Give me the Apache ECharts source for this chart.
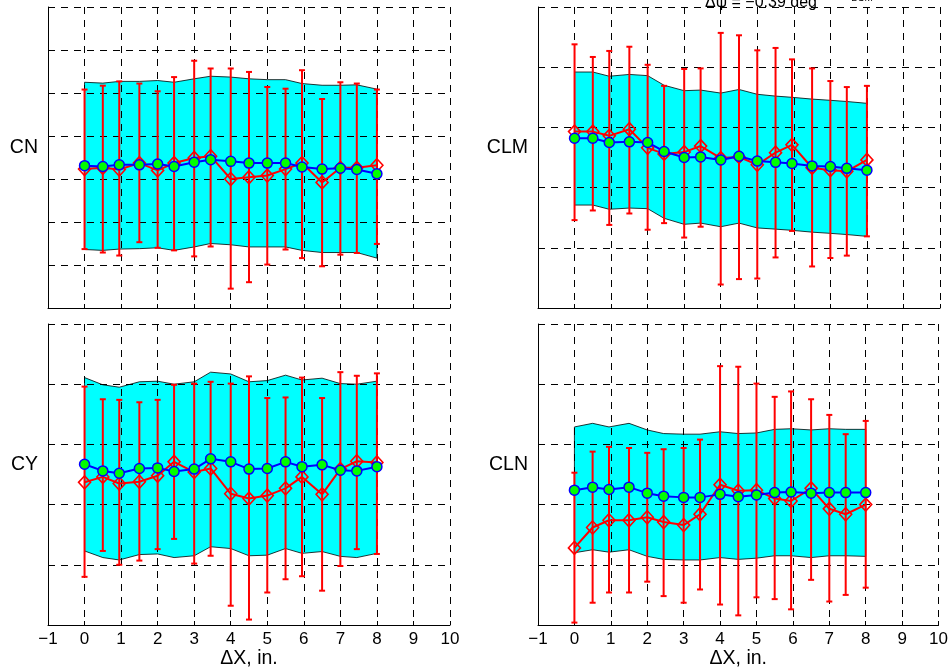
<!DOCTYPE html>
<html><head><meta charset="utf-8">
<script src="https://cdn.jsdelivr.net/npm/echarts@6/dist/echarts.min.js"></script>
<style>html,body{margin:0;padding:0;background:#fff}#c{width:951px;height:671px}</style>
</head><body><div id="c"></div>
<script>
const xPos = [0,0.5,0.95,1.5,2,2.45,3,3.45,4,4.5,5,5.5,5.95,6.5,7,7.45,8];
const xMin = -1, xMax = 10;
const panelNames = ['CN','CLM','CY','CLN'];
const panelYMax = [7,5,5,5];
const xLabel = 'ΔX, in.';
const titleText = 'Δψ = −0.39 deg';

// CN
const cnPred  = [3.31,3.29,3.33,3.33,3.35,3.29,3.39,3.45,3.41,3.37,3.37,3.37,3.28,3.23,3.25,3.22,3.12];
const cnMeas  = [3.23,3.26,3.22,3.37,3.20,3.37,3.49,3.53,3.00,3.04,3.08,3.23,3.37,2.92,3.26,3.26,3.32];
const cnErrHi = [5.08,5.17,5.27,5.22,5.04,5.37,5.75,5.57,5.57,5.49,5.14,5.10,5.53,4.86,5.25,5.22,5.08];
const cnErrLo = [1.37,1.29,1.22,1.53,1.40,1.34,1.20,1.43,0.45,0.60,1.01,1.36,1.16,0.97,1.24,1.28,1.49];
const cnBandHi = [5.25,5.23,5.27,5.27,5.29,5.25,5.33,5.39,5.37,5.33,5.31,5.31,5.22,5.18,5.18,5.19,5.09];
const cnBandLo = [1.36,1.34,1.37,1.38,1.40,1.34,1.42,1.50,1.47,1.42,1.42,1.42,1.34,1.29,1.29,1.29,1.16];

// CLM
const clmPred  = [2.82,2.82,2.75,2.76,2.75,2.60,2.50,2.51,2.46,2.52,2.44,2.42,2.40,2.36,2.35,2.32,2.29];
const clmMeas  = [2.93,2.93,2.86,2.97,2.66,2.56,2.59,2.69,2.49,2.51,2.38,2.58,2.71,2.33,2.29,2.27,2.46];
const clmErrHi = [4.38,4.17,4.27,4.34,4.04,3.69,3.97,3.98,4.57,4.53,4.28,4.32,4.13,3.98,3.77,3.67,3.69];
const clmErrLo = [1.46,1.62,1.38,1.57,1.30,1.41,1.17,1.35,0.39,0.48,0.49,0.84,1.28,0.69,0.83,0.87,1.19];
const clmBandHi = [3.92,3.92,3.85,3.88,3.86,3.70,3.61,3.62,3.57,3.63,3.55,3.52,3.50,3.47,3.45,3.43,3.40];
const clmBandLo = [1.71,1.71,1.64,1.66,1.65,1.49,1.39,1.41,1.35,1.41,1.33,1.31,1.29,1.26,1.24,1.22,1.19];

// CY
const cyPred  = [2.67,2.56,2.52,2.60,2.61,2.55,2.59,2.76,2.71,2.59,2.60,2.71,2.63,2.66,2.57,2.56,2.63];
const cyMeas  = [2.37,2.46,2.35,2.38,2.48,2.71,2.54,2.60,2.18,2.10,2.15,2.27,2.46,2.17,2.59,2.72,2.70];
const cyErrHi = [3.96,3.75,3.74,3.70,3.74,3.99,4.01,4.04,4.01,4.13,3.77,3.78,4.11,3.77,4.20,4.14,4.18];
const cyErrLo = [0.80,1.23,1.00,1.07,1.26,1.43,1.02,1.15,0.32,0.09,0.54,0.76,0.81,0.57,0.98,1.26,1.18];
const cyBandHi = [4.11,3.99,3.95,4.04,4.05,4.00,4.04,4.20,4.17,4.04,4.06,4.15,4.07,4.10,4.01,4.00,4.05];
const cyBandLo = [1.23,1.12,1.08,1.17,1.18,1.12,1.15,1.30,1.27,1.15,1.16,1.27,1.19,1.22,1.14,1.12,1.19];

// CLN
const clnPred  = [2.24,2.29,2.25,2.29,2.19,2.14,2.12,2.12,2.17,2.13,2.16,2.20,2.21,2.19,2.20,2.20,2.20];
const clnMeas  = [1.28,1.62,1.74,1.74,1.79,1.71,1.66,1.84,2.33,2.23,2.24,2.10,2.06,2.27,1.93,1.84,2.00];
const clnErrHi = [2.53,2.88,2.96,2.94,2.86,2.92,2.94,3.08,4.30,4.29,4.01,3.79,3.88,3.75,3.49,3.17,3.39];
const clnErrLo = [0.04,0.37,0.54,0.54,0.72,0.48,0.37,0.59,0.34,0.16,0.46,0.43,0.26,0.75,0.39,0.50,0.62];
const clnBandHi = [3.29,3.35,3.29,3.35,3.24,3.18,3.17,3.17,3.21,3.18,3.19,3.25,3.26,3.24,3.26,3.25,3.25];
const clnBandLo = [1.20,1.25,1.21,1.25,1.14,1.09,1.08,1.08,1.12,1.09,1.11,1.15,1.15,1.12,1.15,1.15,1.14];

const panels = [
  {pred: cnPred,  meas: cnMeas,  errHi: cnErrHi,  errLo: cnErrLo,  bandHi: cnBandHi,  bandLo: cnBandLo},
  {pred: clmPred, meas: clmMeas, errHi: clmErrHi, errLo: clmErrLo, bandHi: clmBandHi, bandLo: clmBandLo},
  {pred: cyPred,  meas: cyMeas,  errHi: cyErrHi,  errLo: cyErrLo,  bandHi: cyBandHi,  bandLo: cyBandLo},
  {pred: clnPred, meas: clnMeas, errHi: clnErrHi, errLo: clnErrLo, bandHi: clnBandHi, bandLo: clnBandLo}
];

const FONT = 'Liberation Sans, Arial, Helvetica, sans-serif';
const gridRects = [
  {left: 48,  top: 7,   width: 402, height: 301},
  {left: 538, top: 7,   width: 402, height: 301},
  {left: 48,  top: 324, width: 402, height: 301},
  {left: 538, top: 324, width: 402, height: 301}
];
const splitStyle = {color: '#000', width: 1, type: [7, 6]};

const grids = [], xAxes = [], yAxes = [], series = [];
panels.forEach((p, k) => {
  const bottom = k >= 2;
  grids.push(Object.assign({containLabel: false}, gridRects[k]));
  xAxes.push({
    gridIndex: k, type: 'value', min: xMin, max: xMax, interval: 1, z: 2,
    axisLine: {show: true, onZero: false, lineStyle: {color: '#000', width: 1}},
    axisTick: {show: true, inside: true, length: 4, lineStyle: {color: '#000'}},
    axisLabel: {show: bottom, color: '#000', fontSize: 17, fontFamily: FONT, margin: 6,
      formatter: v => v < 0 ? '\u2212' + Math.abs(v) : String(v)},
    splitLine: {show: true, lineStyle: splitStyle},
    name: bottom ? xLabel : '', nameLocation: 'middle', nameGap: 34,
    nameTextStyle: {color: '#000', fontSize: 19.5, fontFamily: FONT, verticalAlign: 'middle'}
  });
  yAxes.push({
    gridIndex: k, type: 'value', min: 0, max: panelYMax[k], interval: 1, z: 2,
    axisLine: {show: true, onZero: false, lineStyle: {color: '#000', width: 1}},
    axisTick: {show: true, inside: true, length: 4, lineStyle: {color: '#000'}},
    axisLabel: {show: false},
    splitLine: {show: true, lineStyle: splitStyle},
    name: panelNames[k], nameLocation: 'middle', nameRotate: 0, nameGap: 10,
    nameTextStyle: {color: '#000', fontSize: 19.5, fontFamily: FONT, align: 'right',
      verticalAlign: 'bottom'}
  });
  // uncertainty band
  series.push({
    type: 'custom', xAxisIndex: k, yAxisIndex: k, z: 1, silent: true,
    data: xPos.map((x, i) => [x, p.bandLo[i], p.bandHi[i]]),
    encode: {x: 0, y: [1, 2]},
    renderItem: (params, api) => {
      if (params.dataIndex !== 0) return null;
      const pts = [];
      for (let i = 0; i < xPos.length; i++) pts.push(api.coord([xPos[i], p.bandHi[i]]));
      for (let i = xPos.length - 1; i >= 0; i--) pts.push(api.coord([xPos[i], p.bandLo[i]]));
      return {type: 'polygon', shape: {points: pts},
        style: {fill: '#00ffff', stroke: '#000', lineWidth: 0.8}};
    }
  });
  // error bars
  series.push({
    type: 'custom', xAxisIndex: k, yAxisIndex: k, z: 3, silent: true,
    data: xPos.map((x, i) => [x, p.errLo[i], p.errHi[i]]),
    encode: {x: 0, y: [1, 2]},
    renderItem: (params, api) => {
      const x = api.value(0);
      const a = api.coord([x, api.value(2)]);
      const b = api.coord([x, api.value(1)]);
      const cw = 3;
      const st = {stroke: '#ff0000', lineWidth: 2};
      return {type: 'group', children: [
        {type: 'line', shape: {x1: a[0], y1: a[1], x2: b[0], y2: b[1]}, style: st},
        {type: 'line', shape: {x1: a[0] - cw, y1: a[1], x2: a[0] + cw, y2: a[1]}, style: st},
        {type: 'line', shape: {x1: b[0] - cw, y1: b[1], x2: b[0] + cw, y2: b[1]}, style: st}
      ]};
    }
  });
  // measured (red diamonds)
  series.push({
    type: 'line', xAxisIndex: k, yAxisIndex: k, z: 4, silent: true, animation: false,
    data: xPos.map((x, i) => [x, p.meas[i]]),
    symbol: 'diamond', symbolSize: [12, 13], showAllSymbol: true,
    lineStyle: {color: '#ff0000', width: 2},
    itemStyle: {color: 'rgba(255,0,0,0)', borderColor: '#ff0000', borderWidth: 1.6}
  });
  // predicted (blue line, green circles)
  series.push({
    type: 'line', xAxisIndex: k, yAxisIndex: k, z: 5, silent: true, animation: false,
    data: xPos.map((x, i) => [x, p.pred[i]]),
    symbol: 'circle', symbolSize: 10, showAllSymbol: true,
    lineStyle: {color: '#0000ff', width: 2},
    itemStyle: {color: '#00ff00', borderColor: '#0000ff', borderWidth: 1.5}
  });
});

const chart = echarts.init(document.getElementById('c'), null, {renderer: 'canvas'});
chart.setOption({
  animation: false,
  backgroundColor: '#fff',
  grid: grids, xAxis: xAxes, yAxis: yAxes, series: series,
  graphic: [
    {type: 'text', x: 761, y: 11, z: 10, style: {text: titleText, font: '16px ' + FONT,
      fill: '#000', align: 'center', verticalAlign: 'bottom'}},
    {type: 'text', x: 862, y: 3, z: 10, style: {text: 'BSM', font: '10px ' + FONT,
      fill: '#000', align: 'center', verticalAlign: 'bottom'}}
  ]
});
</script>
</body></html>
